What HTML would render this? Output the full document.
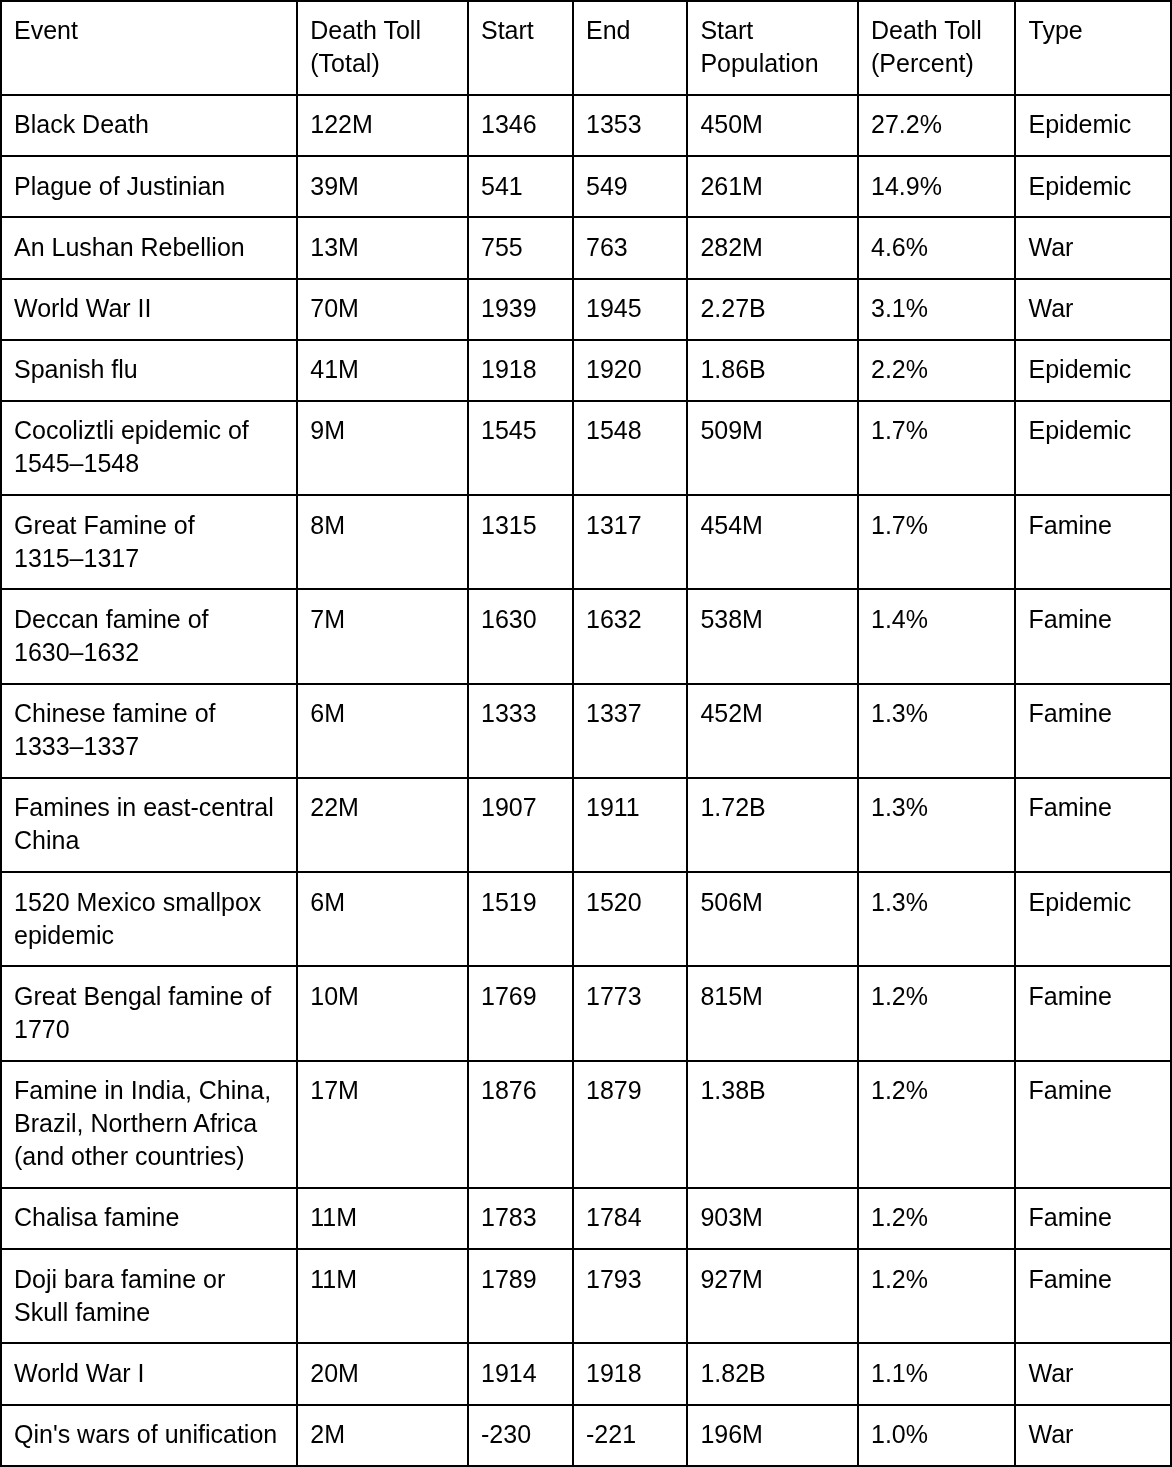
<!DOCTYPE html>
<html>
<head>
<meta charset="utf-8">
<title>Death toll table</title>
<style>
html, body { margin: 0; padding: 0; background: #fff; }
body { width: 1172px; height: 1467px; overflow: hidden; }
table {
  border-collapse: collapse;
  table-layout: fixed;
  width: 1172px;
  font-family: "Liberation Sans", Arial, sans-serif;
  font-size: 25px;
  line-height: 33px;
  color: #000;
  will-change: transform;
}
td {
  border: 2px solid #000;
  padding: 12px 12px 12px 12px;
  vertical-align: top;
  text-align: left;
  font-weight: normal;
}
tr:nth-child(3) td, tr:nth-child(4) td, tr:nth-child(8) td, tr:nth-child(9) td, tr:nth-child(12) td, tr:nth-child(13) td, tr:nth-child(16) td, tr:nth-child(17) td { padding-top: 13px; padding-bottom: 11px; }
td:nth-child(2) { padding-left: 12.25px; }
td:nth-child(5) { padding-left: 12.4px; }
td:nth-child(7) { padding-left: 12.5px; }
</style>
</head>
<body>
<table>
<colgroup>
<col style="width:296px"><col style="width:171px"><col style="width:105px"><col style="width:114px"><col style="width:171px"><col style="width:157px"><col style="width:156px">
</colgroup>
<tbody>
<tr style="height:94px"><td>Event</td><td>Death Toll<br>(Total)</td><td>Start</td><td>End</td><td>Start<br>Population</td><td>Death Toll<br>(Percent)</td><td>Type</td></tr>
<tr style="height:61px"><td>Black Death</td><td>122M</td><td>1346</td><td>1353</td><td>450M</td><td>27.2%</td><td>Epidemic</td></tr>
<tr style="height:61px"><td>Plague of Justinian</td><td>39M</td><td>541</td><td>549</td><td>261M</td><td>14.9%</td><td>Epidemic</td></tr>
<tr style="height:62px"><td>An Lushan Rebellion</td><td>13M</td><td>755</td><td>763</td><td>282M</td><td>4.6%</td><td>War</td></tr>
<tr style="height:61px"><td>World War II</td><td>70M</td><td>1939</td><td>1945</td><td>2.27B</td><td>3.1%</td><td>War</td></tr>
<tr style="height:61px"><td>Spanish flu</td><td>41M</td><td>1918</td><td>1920</td><td>1.86B</td><td>2.2%</td><td>Epidemic</td></tr>
<tr style="height:94px"><td>Cocoliztli epidemic of<br>1545–1548</td><td>9M</td><td>1545</td><td>1548</td><td>509M</td><td>1.7%</td><td>Epidemic</td></tr>
<tr style="height:94px"><td>Great Famine of<br>1315–1317</td><td>8M</td><td>1315</td><td>1317</td><td>454M</td><td>1.7%</td><td>Famine</td></tr>
<tr style="height:95px"><td>Deccan famine of<br>1630–1632</td><td>7M</td><td>1630</td><td>1632</td><td>538M</td><td>1.4%</td><td>Famine</td></tr>
<tr style="height:94px"><td>Chinese famine of<br>1333–1337</td><td>6M</td><td>1333</td><td>1337</td><td>452M</td><td>1.3%</td><td>Famine</td></tr>
<tr style="height:94px"><td>Famines in east-central<br>China</td><td>22M</td><td>1907</td><td>1911</td><td>1.72B</td><td>1.3%</td><td>Famine</td></tr>
<tr style="height:94px"><td>1520 Mexico smallpox<br>epidemic</td><td>6M</td><td>1519</td><td>1520</td><td>506M</td><td>1.3%</td><td>Epidemic</td></tr>
<tr style="height:95px"><td>Great Bengal famine of<br>1770</td><td>10M</td><td>1769</td><td>1773</td><td>815M</td><td>1.2%</td><td>Famine</td></tr>
<tr style="height:127px"><td>Famine in India, China,<br>Brazil, Northern Africa<br>(and other countries)</td><td>17M</td><td>1876</td><td>1879</td><td>1.38B</td><td>1.2%</td><td>Famine</td></tr>
<tr style="height:61px"><td>Chalisa famine</td><td>11M</td><td>1783</td><td>1784</td><td>903M</td><td>1.2%</td><td>Famine</td></tr>
<tr style="height:94px"><td>Doji bara famine or<br>Skull famine</td><td>11M</td><td>1789</td><td>1793</td><td>927M</td><td>1.2%</td><td>Famine</td></tr>
<tr style="height:62px"><td>World War I</td><td>20M</td><td>1914</td><td>1918</td><td>1.82B</td><td>1.1%</td><td>War</td></tr>
<tr style="height:61px"><td>Qin's wars of unification</td><td>2M</td><td>-230</td><td>-221</td><td>196M</td><td>1.0%</td><td>War</td></tr>
</tbody>
</table>
</body>
</html>
